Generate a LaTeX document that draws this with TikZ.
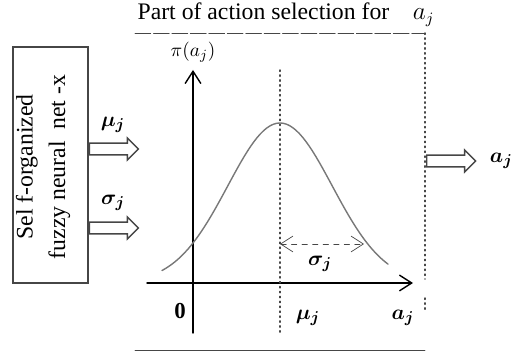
\documentclass[tikz,border=0pt]{standalone}
\usepackage{amsmath,amssymb}
\usepackage{fontspec}
\setmainfont{Liberation Serif}
\usetikzlibrary{arrows.meta,calc,positioning,shapes.arrows}
\definecolor{curvegray}{RGB}{120,120,120}
\definecolor{framegray}{RGB}{70,70,70}

\begin{document}
\begin{tikzpicture}[x=0.02cm,y=-0.02cm,>={Straight Barb[length=7pt,width=9pt]},line cap=round,
  hollowarrow/.style={single arrow,draw=framegray,thick,fill=white,inner sep=0pt,
   minimum height=0.98cm,minimum width=0.44cm,single arrow head extend=0.1cm,
   text height=0.2cm,anchor=tail},
  lab/.style={font=\fontsize{13}{15}\selectfont\boldmath}]
 \useasboundingbox (0,0) rectangle (518,354);
 % left block
 \node[draw=framegray,thick,minimum width=1.5cm,minimum height=4.72cm] (net) at (50.5,165) {};
 \node[rotate=90,align=center,font=\fontsize{13.5}{18.5}\selectfont] (nettext) at (43,167)
  {Sel f-organized\\fuzzy neural\ \ net -x};
 \node[hollowarrow] (muarrow) at (net.east |- 0,149) {};
 \node[hollowarrow] (sigarrow) at (net.east |- 0,228) {};
 \node[lab] (mulab) at (113,125) {$\mu_j$};
 \node[lab] (siglab) at (113,203) {$\sigma_j$};
 % frame of the selection part
 \coordinate (frtl) at (135,33);
 \coordinate (frtr) at (425,33);
 \coordinate (frbr) at (425,350);
 \coordinate (frbl) at (135,350);
 \draw[framegray,dash pattern=on 9pt off 1.5pt] (frtl) -- (frtr);
 \draw[framegray,thin] (frbl) -- (frbr);
 \draw[framegray,dotted,thick] (frtr) -- (425,279);
 \draw[framegray,dotted,thick] (425,298) -- (425,310);
 \node[font=\fontsize{13.5}{15}\selectfont] (title) at (286,15)
  {Part of action selection for\quad$a_j$};
 % axes
 \coordinate (orig) at (193,283);
 \coordinate (ytop) at (193,70);
 \coordinate (xend) at (413,283);
 \draw[thick,->] (193,333) -- (ytop);
 \draw[thick,->] (147,283) -- (xend);
 \node[font=\fontsize{11}{13}\selectfont] (pilab) at (193,52) {$\pi(a_j)$};
 \node[font=\fontsize{13}{15}\selectfont\bfseries] (zero) at (180,311) {0};
 % membership curve
 \draw[framegray,dotted,thick] (280,70) -- (280,333);
 \draw[curvegray,thick] plot[domain=162:388,samples=70] (\x,{283-160*exp(-((\x-280)^2)/5460)});
 \coordinate (sigl) at (280,244);
 \coordinate (sigr) at (364,244);
 \draw[framegray,dashed,<->] (sigl) -- (sigr);
 \node[lab] (sigmid) at (320,264) {$\sigma_j$};
 \node[lab] (meanlab) at (308,318) {$\mu_j$};
 \node[lab] (axlab) at (403,318) {$a_j$};
 % output
 \node[hollowarrow] (outarrow) at (426,161) {};
 \node[lab,right=4pt of outarrow.tip] (outlab) {$a_j$};
\end{tikzpicture}
\end{document}
